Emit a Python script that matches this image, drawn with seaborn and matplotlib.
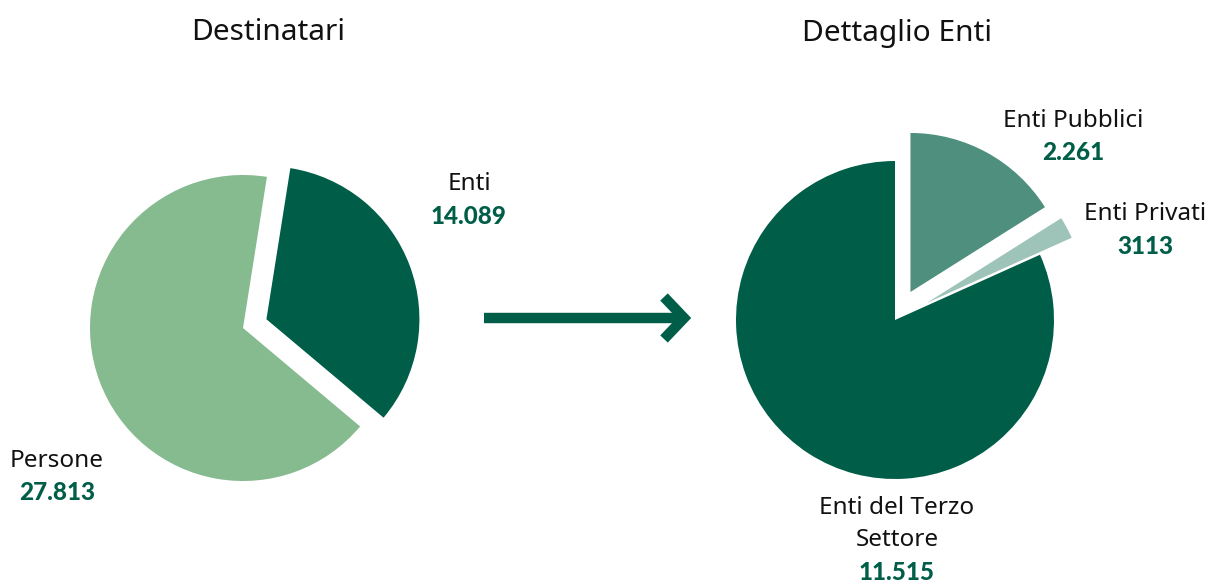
import matplotlib
matplotlib.use("Agg")
import matplotlib.pyplot as plt
import seaborn as sns

# left pie: destinatari
dest_labels = ["Enti", "Persone"]
dest_values = [14089, 27813]
dest_text = ["14.089", "27.813"]

# right pie: dettaglio enti
enti_labels = ["Enti Pubblici", "Enti Privati", "Enti del Terzo\nSettore"]
enti_values = [2261, 313, 11515]
enti_text = ["2.261", "3113", "11.515"]

DARK = "#005E48"
sns.set_theme(style="white")
plt.rcParams["font.family"] = ["Noto Sans", "DejaVu Sans"]

dest_colors = [DARK, "#86BA8F"]
enti_colors = ["#4F8F7E", "#9EC4B9", DARK]

W, H = 1211, 580
fig = plt.figure(figsize=(W / 100, H / 100), dpi=100)
ax = fig.add_axes([0, 0, 1, 1])

# explode is in data units here (pixels)
ax.pie(dest_values, colors=dest_colors, startangle=81, counterclock=False,
       center=(243, H - 328), radius=153, explode=[25, 0],
       wedgeprops={"linewidth": 0})
ax.pie(enti_values, colors=enti_colors, startangle=90, counterclock=False,
       center=(895, H - 320), radius=159, explode=[32, 36, 0],
       wedgeprops={"linewidth": 0})
ax.set_xlim(0, W)
ax.set_ylim(0, H)
ax.set_aspect("equal")
ax.axis("off")

ax.text(268, H - 33, "Destinatari", ha="center", va="center", fontsize=21.5, color="#111111")
ax.text(897, H - 33, "Dettaglio Enti", ha="center", va="center", fontsize=21.5, color="#111111")

def label(x, y, name, value):
    lines = name.split("\n")
    for i, line in enumerate(lines):
        ax.text(x, H - y - 32 * i, line, ha="center", va="center", fontsize=17.5,
                color="#111111")
    ax.text(x, H - y - 32 * len(lines), value, ha="center", va="center", fontsize=17.5,
            fontweight="black", color=DARK, family=["Lato", "DejaVu Sans"])

label(469, 184, dest_labels[0], dest_text[0])
label(57, 461, dest_labels[1], dest_text[1])
label(1073, 121, enti_labels[0], enti_text[0])
label(1145, 214, enti_labels[1], enti_text[1])
label(897, 508, enti_labels[2], enti_text[2])

# arrow between the two pies
lw = 7.5
ax.plot([484, 683], [H - 318, H - 318], color=DARK, lw=lw, solid_capstyle="butt")
ax.plot([664, 684, 664], [H - 297, H - 318, H - 339], color=DARK, lw=lw,
        solid_capstyle="butt", solid_joinstyle="miter")

fig.savefig("out.png", dpi=100)
